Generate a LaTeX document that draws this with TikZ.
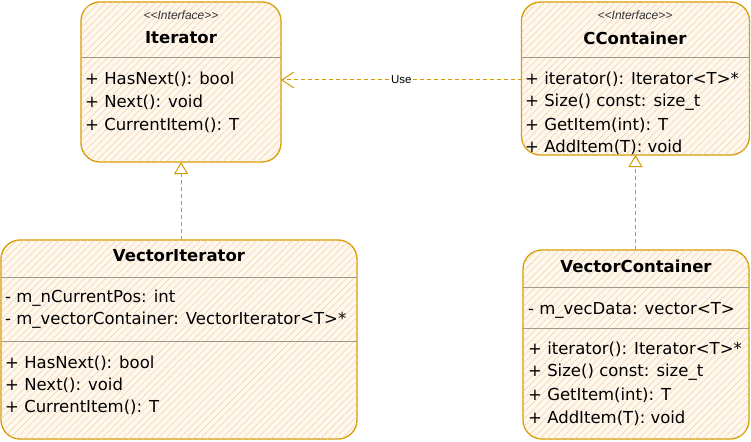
\documentclass[tikz,border=0pt]{standalone}
\usepackage{fontspec}
\setmainfont{DejaVu Sans}
\newfontfamily\helv{Liberation Sans}
\usetikzlibrary{arrows.meta,patterns.meta}
\definecolor{strokec}{HTML}{D79B00}
\definecolor{hatchc}{HTML}{F6CFA0}
\definecolor{fillc}{HTML}{FFF8EF}
\definecolor{sepc}{HTML}{A09888}
\begin{document}
\begin{tikzpicture}[x=1pt,y=-1pt,
 classbox/.style={draw=strokec, line width=1.3pt, rounded corners=19pt, fill=fillc,
   postaction={pattern={Lines[angle=45,distance=5pt,line width=0.5pt]}, pattern color=hatchc},
   inner sep=0pt, outer sep=0pt},
 member/.style={anchor=west, inner sep=0pt, font=\fontsize{16.5}{18}\selectfont},
 cname/.style={inner sep=0pt, font=\bfseries\fontsize{16.5}{18}\selectfont},
 stereo/.style={inner sep=0pt, text=black!80, font=\helv\itshape\fontsize{12}{13}\selectfont},
 sep/.style={draw=sepc, line width=0.6pt},
 realize/.style={draw=strokec, line width=1pt, dash pattern=on 4pt off 3pt,
   -{Triangle[open,length=12pt,width=14pt,fill=white]}},
 usedep/.style={draw=strokec, line width=1pt, dash pattern=on 4pt off 3pt,
   -{Straight Barb[length=12pt,width=16pt]}},
 uselabel/.style={fill=white, inner sep=1pt, font=\helv\fontsize{11.5}{13}\selectfont},
]
\fill[white] (0,0) rectangle (751,441);
\useasboundingbox (0,0) rectangle (751,441);

% Iterator
\node[classbox, minimum width=200pt, minimum height=160pt] (iter) at (181,82) {};
\draw[sep] (iter.west |- 0,57) -- (iter.east |- 0,57);
\node[stereo] (iterst) at (181,15) {<{}<Interface>{}>};
\node[cname] (itername) at (181,38) {Iterator};
\node[member] (it1) at (85,79) {+ HasNext(): bool};
\node[member] (it2) at (85,102) {+ Next(): void};
\node[member] (it3) at (85,125) {+ CurrentItem(): T};

% CContainer
\node[classbox, minimum width=228pt, minimum height=153pt] (cc) at (635.5,78.5) {};
\draw[sep] (cc.west |- 0,57) -- (cc.east |- 0,57);
\node[stereo] (ccst) at (635,15) {<{}<Interface>{}>};
\node[cname] (ccname) at (635,38) {CContainer};
\node[member] (cc1) at (525,79) {+ iterator(): Iterator<T>*};
\node[member] (cc2) at (525,102) {+ Size() const: size\_t};
\node[member] (cc3) at (525,125) {+ GetItem(int): T};
\node[member] (cc4) at (525,147) {+ AddItem(T): void};

% VectorIterator
\node[classbox, minimum width=356pt, minimum height=199pt] (vi) at (179,339.5) {};
\draw[sep] (vi.west |- 0,277) -- (vi.east |- 0,277);
\draw[sep] (vi.west |- 0,341) -- (vi.east |- 0,341);
\node[cname] (viname) at (179,256) {VectorIterator};
\node[member] (vi1) at (5,298) {- m\_nCurrentPos: int};
\node[member] (vi2) at (5,320) {- m\_vectorContainer: VectorIterator<T>*};
\node[member] (vi3) at (5,363) {+ HasNext(): bool};
\node[member] (vi4) at (5,385) {+ Next(): void};
\node[member] (vi5) at (5,407) {+ CurrentItem(): T};

% VectorContainer
\node[classbox, minimum width=226pt, minimum height=189pt] (vc) at (636,344.5) {};
\draw[sep] (vc.west |- 0,287) -- (vc.east |- 0,287);
\draw[sep] (vc.west |- 0,328) -- (vc.east |- 0,328);
\node[cname] (vcname) at (636,266) {VectorContainer};
\node[member] (vc1) at (528,310) {- m\_vecData: vector<T>};
\node[member] (vc2) at (528,349) {+ iterator(): Iterator<T>*};
\node[member] (vc3) at (528,372) {+ Size() const: size\_t};
\node[member] (vc4) at (528,395) {+ GetItem(int): T};
\node[member] (vc5) at (528,418) {+ AddItem(T): void};

% connectors
\draw[realize] (vi.north -| iter.south) -- (iter.south);
\draw[realize] (vc.north -| cc.south) -- (cc.south);
\coordinate (usey) at (400,80);
\draw[usedep] (cc.west |- usey) -- node[uselabel] (uselbl) {Use} (iter.east |- usey);
\end{tikzpicture}
\end{document}
